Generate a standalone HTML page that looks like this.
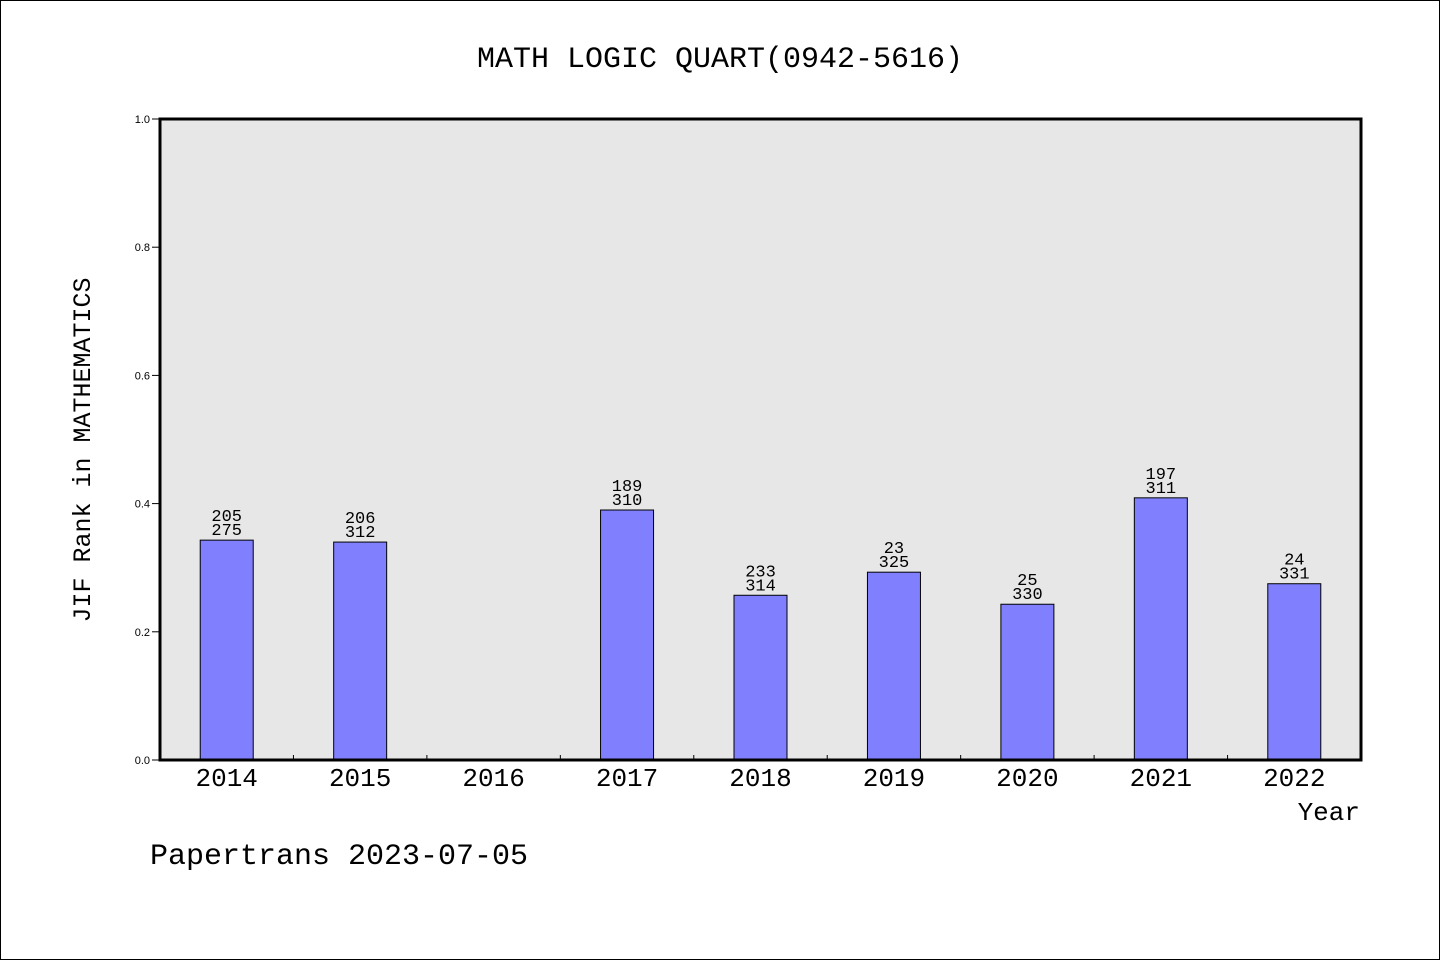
<!DOCTYPE html>
<html><head><meta charset="utf-8"><style>
html,body{margin:0;padding:0;background:#fff}
svg{display:block}
text{font-family:"Liberation Mono","WenQuanYi Zen Hei",monospace;fill:#000}
.sans{font-family:"Liberation Sans",sans-serif}
</style></head><body>
<svg id="chart" width="1440" height="960">
<rect x="0.5" y="0.5" width="1439" height="959" fill="#fff" stroke="#000"/>
<text x="720" y="67" font-size="30" text-anchor="middle">MATH LOGIC QUART(0942-5616)</text>
<rect x="160" y="119" width="1201" height="641" fill="#e7e7e7"/>
<g id="bars"></g>
<g id="yticks"></g>
<g id="xticks"></g>
<rect x="160" y="119" width="1201" height="641" fill="none" stroke="#000" stroke-width="3"/>
<text x="90" y="450" font-size="25" text-anchor="middle" transform="rotate(-90 90 450)">JIF Rank in MATHEMATICS</text>
<text x="1360" y="820" font-size="26" text-anchor="end">Year</text>
<text x="150" y="864" font-size="30">Papertrans 2023-07-05</text>
</svg>
<script>
const years=["2014","2015","2016","2017","2018","2019","2020","2021","2022"];
const values=[0.343,0.340,null,0.390,0.257,0.293,0.243,0.409,0.275];
const ranks=["205","206","","189","233","23","25","197","24"];
const totals=["275","312","","310","314","325","330","311","331"];
const yTicks=[0,0.2,0.4,0.6,0.8,1.0];
const yTickLabels=["0.0","0.2","0.4","0.6","0.8","1.0"];
const NS="http://www.w3.org/2000/svg";
const X0=160,X1=1361,Y0=760,Y1=119;
const band=(X1-X0)/years.length;
const xC=i=>X0+(i+0.5)*band;
const yS=v=>Y0-(v)*(Y0-Y1);
function mk(t,a,p){const e=document.createElementNS(NS,t);for(const k in a)e.setAttribute(k,a[k]);p.appendChild(e);return e;}
const gb=document.getElementById('bars'),gy=document.getElementById('yticks'),gx=document.getElementById('xticks');
yTicks.forEach((v,i)=>{
  const l=mk('line',{x1:152,x2:160,y1:yS(v),y2:yS(v),stroke:'#000','stroke-width':1},gy);
  
  
  const t=mk('text',{x:150,y:yS(v)+4,'font-size':11,'text-anchor':'end',class:'sans'},gy);
  t.textContent=yTickLabels[i];
  
  
});
years.forEach((y,i)=>{
  if(i>0){const l=mk('line',{x1:X0+i*band,x2:X0+i*band,y1:Y0,y2:Y0-5,stroke:'#000','stroke-width':1},gx);
  
  }
  const t=mk('text',{x:xC(i),y:786,'font-size':26,'text-anchor':'middle'},gx);
  t.textContent=y;
  
  
  const v=values[i];
  if(v==null)return;
  const top=yS(v);
  const r=mk('rect',{x:xC(i)-26.5,y:top,width:53,height:Y0-top,fill:'#8080ff',stroke:'#000','stroke-width':1},gb);
  
  
  const a=mk('text',{x:xC(i),y:top-19,'font-size':17,'text-anchor':'middle'},gb);
  a.textContent=ranks[i];
  
  
  const b=mk('text',{x:xC(i),y:top-5,'font-size':17,'text-anchor':'middle'},gb);
  b.textContent=totals[i];
  
  
});
</script>
</body></html>
